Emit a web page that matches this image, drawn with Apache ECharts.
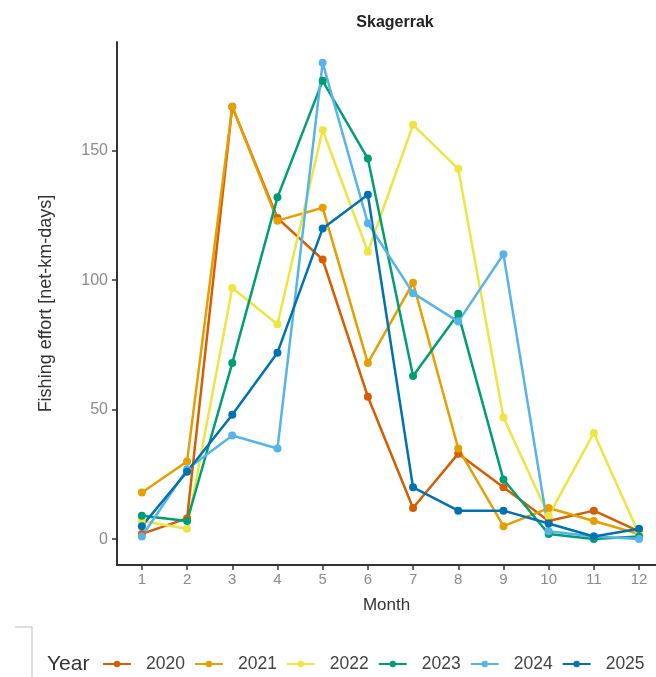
<!DOCTYPE html>
<html>
<head>
<meta charset="utf-8">
<script src="https://cdn.jsdelivr.net/npm/echarts@6/dist/echarts.min.js"></script>
<style>
  html, body { margin: 0; padding: 0; background: #fff; }
  #chart { width: 656px; height: 677px; }
</style>
</head>
<body>
<div id="chart"></div>
<script>
const months = [1, 2, 3, 4, 5, 6, 7, 8, 9, 10, 11, 12]
const years = ['2020', '2021', '2022', '2023', '2024', '2025']
const yTicks = [0, 50, 100, 150]

const effort2020 = [2, 8, 167, 124, 108, 55, 12, 33, 20, 7, 11, 3]
const effort2021 = [18, 30, 167, 123, 128, 68, 99, 35, 5, 12, 7, 2]
const effort2022 = [7, 4, 97, 83, 158, 111, 160, 143, 47, 9, 41, 2]
const effort2023 = [9, 7, 68, 132, 177, 147, 63, 87, 23, 2, 0, 1]
const effort2024 = [1, 27, 40, 35, 184, 122, 95, 84, 110, 3, 1, 0]
const effort2025 = [5, 26, 48, 72, 120, 133, 20, 11, 11, 6, 1, 4]

const allEffort = [effort2020, effort2021, effort2022, effort2023, effort2024, effort2025]
const colors = ['#D55E00', '#E69F00', '#F0E442', '#009E73', '#56B4E9', '#0072B2']

const chart = echarts.init(document.getElementById('chart'), null, { renderer: 'canvas' })
const font = 'Liberation Sans, Arial, sans-serif'

const series = years.map((year, idx) => ({
  name: year,
  type: 'line',
  data: months.map((m, i) => [m, allEffort[idx][i]]),
  symbol: 'circle',
  symbolSize: 8,
  lineStyle: { width: 2.5, color: colors[idx] },
  itemStyle: { color: colors[idx] },
  emphasis: { disabled: true },
}))

chart.setOption({
  animation: false,
  textStyle: { fontFamily: font },
  title: {
    text: 'Skagerrak',
    left: 390,
    top: 10,
    textAlign: 'center',
    textStyle: { fontSize: 16, fontWeight: 'bold', color: '#222', fontFamily: font },
  },
  legend: {
    top: 655,
    left: 102,
    width: 600,
    padding: 0,
    itemWidth: 28,
    itemHeight: 8,
    itemGap: 9,
    data: years,
    textStyle: { fontSize: 17.5, color: '#444', fontFamily: font, padding: [0, 0, 0, 10] },
  },
  graphic: [
    {
      type: 'text',
      left: 47,
      top: 654,
      style: { text: 'Year', fontSize: 21, fill: '#333', fontFamily: font },
    },
    {
      type: 'polyline',
      shape: { points: [[15, 627], [32, 627], [32, 677]] },
      style: { stroke: '#bbb', lineWidth: 1, fill: null },
    },
  ],
  grid: {
    left: 117,
    right: 0,
    top: 42,
    bottom: 112,
  },
  xAxis: {
    type: 'value',
    min: 0.45,
    max: 12.375,
    name: 'Month',
    nameLocation: 'middle',
    nameGap: 32,
    nameTextStyle: { fontSize: 17, color: '#333' },
    splitLine: { show: false },
    axisLine: { onZero: false, lineStyle: { color: '#333', width: 2 } },
    axisTick: { customValues: months, length: 5, lineStyle: { color: '#333', width: 1.5 } },
    axisLabel: { customValues: months, color: '#8a8a8a', fontSize: 15, margin: 7 },
  },
  yAxis: {
    type: 'value',
    min: -10,
    max: 192,
    name: 'Fishing effort [net-km-days]',
    nameLocation: 'middle',
    nameGap: 62,
    nameTextStyle: { fontSize: 18, color: '#333' },
    splitLine: { show: false },
    axisLine: { show: true, onZero: false, lineStyle: { color: '#333', width: 2 } },
    axisTick: { show: true, customValues: yTicks, length: 5, lineStyle: { color: '#333', width: 1.5 } },
    axisLabel: { customValues: yTicks, color: '#8a8a8a', fontSize: 16, margin: 9 },
  },
  series,
})
</script>
</body>
</html>
